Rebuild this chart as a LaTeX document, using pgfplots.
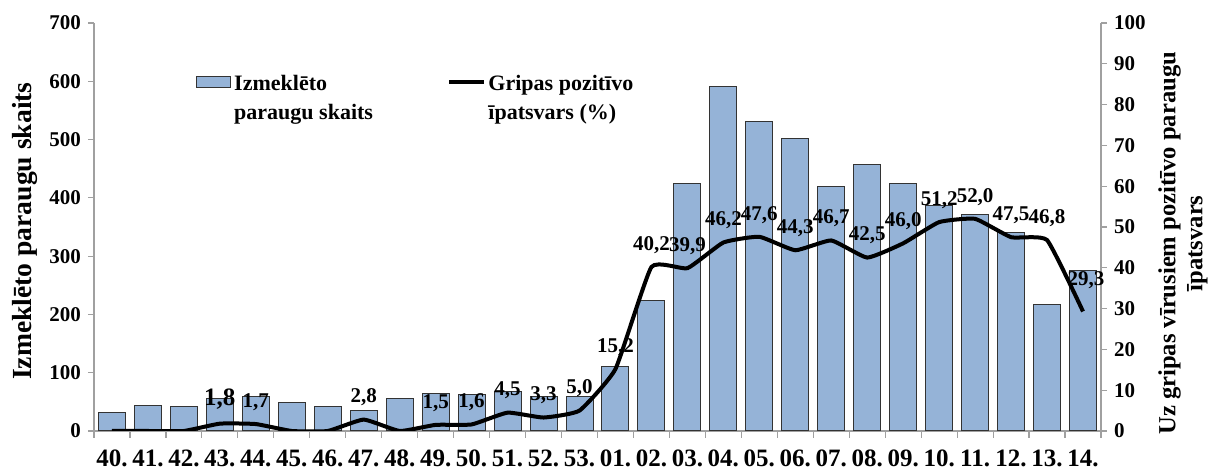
\documentclass[border=0pt]{standalone}
\usepackage{pgfplots}
\pgfplotsset{compat=1.18}
\usepackage{pgfplotstable}
\usepackage{fontspec}
\setmainfont{Liberation Serif}
\definecolor{barblue}{RGB}{149,179,215}
\definecolor{axgray}{RGB}{160,160,160}

\pgfplotstableread{
x n p
0 32 0
1 44 0
2 42 0
3 55 1.8
4 59 1.7
5 49 0
6 42 0
7 36 2.8
8 56 0
9 65 1.5
10 63 1.6
11 67 4.5
12 59 3.3
13 60 5.0
14 111 15.2
15 224 40.2
16 424 39.9
17 591 46.2
18 531 47.6
19 501 44.3
20 420 46.7
21 457 42.5
22 424 46.0
23 387 51.2
24 371 52.0
25 341 47.5
26 217 46.8
27 276 29.3
}\data

\pgfplotstableread{
x p l
4 1.7 1,7
7 2.8 2,8
9 1.5 1,5
10 1.6 1,6
11 4.5 4,5
12 3.3 3,3
13 5.0 5,0
14 15.2 15,2
15 40.2 40,2
16 39.9 39,9
17 46.2 46,2
18 47.6 47,6
19 44.3 44,3
20 46.7 46,7
21 42.5 42,5
22 46.0 46,0
23 51.2 51,2
24 52.0 52,0
25 47.5 47,5
26 46.8 46,8
}\lbls

\pgfplotstableread{
x p l
3 1.8 1,8
}\lblbig

\pgfplotstableread{
x p l
27 29.3 29,3
}\lbllast

\pgfplotsset{
  common/.style={
    at={(47pt,19.5pt)}, anchor=south west,
    scale only axis, width=503.5pt, height=204pt,
    xmin=-0.5, xmax=27.5,
    tick align=outside,
    major tick length=3pt,
    every tick/.style={axgray, line width=0.6pt},
    axis line style={axgray, line width=0.7pt, -},
    /pgf/number format/assume math mode=true,
    yticklabel style={font=\fontsize{10.5}{12}\selectfont\bfseries},
    legend style={draw=none, fill=none, anchor=west,
      font=\fontsize{11}{14.5}\selectfont\bfseries, inner sep=0pt,
      nodes={inner xsep=1.5pt, inner ysep=1pt}},
    legend cell align=left,
  }
}

\begin{document}
\begin{tikzpicture}
\path[use as bounding box] (0,0) rectangle (606pt,235pt);
\begin{axis}[
  common,
  ybar, bar width=0.75,
  ymin=0, ymax=700,
  axis y line*=left, axis x line*=bottom,
  ytick={0,100,...,700},
  xtick={0,...,27},
  xticklabels={40.,41.,42.,43.,44.,45.,46.,47.,48.,49.,50.,51.,52.,53.,01.,02.,03.,04.,05.,06.,07.,08.,09.,10.,11.,12.,13.,14.},
  major x tick style={draw=none},
  minor xtick={-0.5,0.5,...,27.5},
  minor tick length=3.5pt,
  minor x tick style={axgray, line width=0.6pt},
  xticklabel style={font=\fontsize{12.5}{14}\selectfont\bfseries, yshift=-3pt},
  ylabel={Izmeklēto paraugu skaits},
  ylabel style={font=\fontsize{13.8}{15}\selectfont\bfseries, at={(axis description cs:-0.0685,0.49)}, anchor=center},
  legend style={at={(axis description cs:0.101,0.855)}},
]
\addplot[fill=barblue, draw=black!80, line width=0.5pt, area legend] table[x=x,y=n]{\data};
\addlegendentry{\begin{tabular}[t]{@{}l@{}}Izmeklēto\\paraugu skaits\end{tabular}}
\end{axis}

\begin{axis}[
  common,
  ymin=0, ymax=100,
  axis y line*=right, axis x line=none,
  ytick={0,10,...,100},
  ylabel={Uz gripas vīrusiem pozitīvo paraugu\\īpatsvars},
  ylabel style={font=\fontsize{12.3}{13.5}\selectfont\bfseries, align=center, at={(axis description cs:1.0814,0.46)}, anchor=center},
  legend style={at={(axis description cs:0.3505,0.855)}},
]
\addplot[black, line width=2pt, smooth, tension=0.25] table[x=x,y=p]{\data};
\addlegendentry{\begin{tabular}[t]{@{}l@{}}Gripas pozitīvo\\īpatsvars (\%)\end{tabular}}
\addplot[draw=none, mark=none, point meta=explicit symbolic,
  nodes near coords, nodes near coords style={font=\fontsize{10.5}{12}\selectfont\bfseries, anchor=center, yshift=11pt}, forget plot]
  table[x=x,y=p,meta=l]{\lbls};
\addplot[draw=none, mark=none, point meta=explicit symbolic,
  nodes near coords, nodes near coords style={font=\fontsize{12.5}{14}\selectfont\bfseries, anchor=center, yshift=12.5pt}, forget plot]
  table[x=x,y=p,meta=l]{\lblbig};
\addplot[draw=none, mark=none, point meta=explicit symbolic,
  nodes near coords, nodes near coords style={font=\fontsize{10.5}{12}\selectfont\bfseries, anchor=center, yshift=15.5pt, xshift=1.5pt}, forget plot]
  table[x=x,y=p,meta=l]{\lbllast};
\end{axis}
\end{tikzpicture}
\end{document}
